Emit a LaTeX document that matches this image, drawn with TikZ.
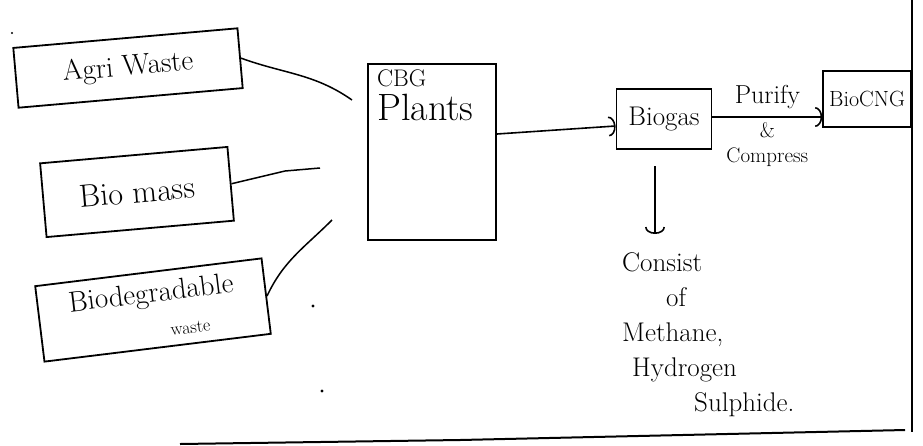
\documentclass[tikz,border=0pt]{standalone}
\usepackage{fontspec}
\setmainfont{Latin Modern Roman}
\usetikzlibrary{arrows.meta}
\begin{document}
\begin{tikzpicture}[x=1pt,y=-1pt,
  box/.style={draw, line width=1.8pt, inner sep=2pt, align=center},
  link/.style={line width=1.5pt},
  flow/.style={line width=1.6pt, -{Arc Barb[length=7pt,width=20pt,line width=1.6pt]}},
  fs/.style={font=\fontsize{#1}{#1}\selectfont}]
\useasboundingbox (0,0) rectangle (923,445);
% input boxes
\node[box, fs=29, minimum width=225pt, minimum height=60pt, rotate=5] (agri) at (128,68) {Agri Waste};
\node[box, fs=32, minimum width=188pt, minimum height=74pt, rotate=5] (bio) at (137,192) {Bio mass};
\node[box, minimum width=228pt, minimum height=76pt, rotate=7] (biodeg) at (153,310)
  {\fontsize{29}{29}\selectfont Biodegradable\\[18pt]\hspace*{70pt}\fontsize{18}{18}\selectfont waste};
% CBG plant
\node[box, minimum width=128pt, minimum height=176pt] (cbg) at (432,152) {};
\node[anchor=north west, align=left, inner sep=0pt] (cbgtext) at (377,70)
  {\fontsize{24}{24}\selectfont CBG\\[6pt]\fontsize{38}{38}\selectfont Plants};
% biogas and bioCNG
\node[box, fs=27, minimum width=95pt, minimum height=60pt] (biogas) at (664,119) {Biogas};
\node[box, fs=22, minimum width=88pt, minimum height=56pt, anchor=east] (biocng) at (912,99) {BioCNG};
% composition
\node[anchor=north west, align=left, inner sep=0pt, font=\fontsize{27}{35}\selectfont] (consist) at (622,252)
  {Consist\\ \hspace*{44pt}of\\ Methane,\\ \hspace*{10pt}Hydrogen\\ \hspace*{72pt}Sulphide.};
% connectors from inputs
\coordinate (a1) at (352,100);
\coordinate (b1) at (320,168);
\coordinate (c1) at (332,220);
\draw[link] (agri.east) to[out=-20,in=145] (a1);
\draw[link] (bio.east) -- (285,171) -- (b1);
\draw[link] (biodeg.east) to[out=65,in=-135] (c1);
% flows
\draw[flow] ([yshift=18pt]cbg.east) -- (biogas.west |- 0,126);
\draw[flow] (biogas.east |- 0,117) -- (biocng.west |- 0,117)
  node[midway, above=4pt, fs=26] (purify) {Purify}
  node[midway, below=1pt, align=center, font=\fontsize{21}{21}\selectfont] (compress) {\&\\[4pt]Compress};
\coordinate (d0) at (655,166);
\draw[flow] (d0) -- (d0 |- 0,234);
% frame lines
\draw[line width=2.2pt] (912,0) -- (912,432);
\draw[line width=2pt] (180,444) -- (460,440) -- (905,430);
% stray dots
\fill (313,306) circle (1.6pt);
\fill (322,391) circle (1.6pt);
\fill (12,33) circle (1.2pt);
\end{tikzpicture}
\end{document}
